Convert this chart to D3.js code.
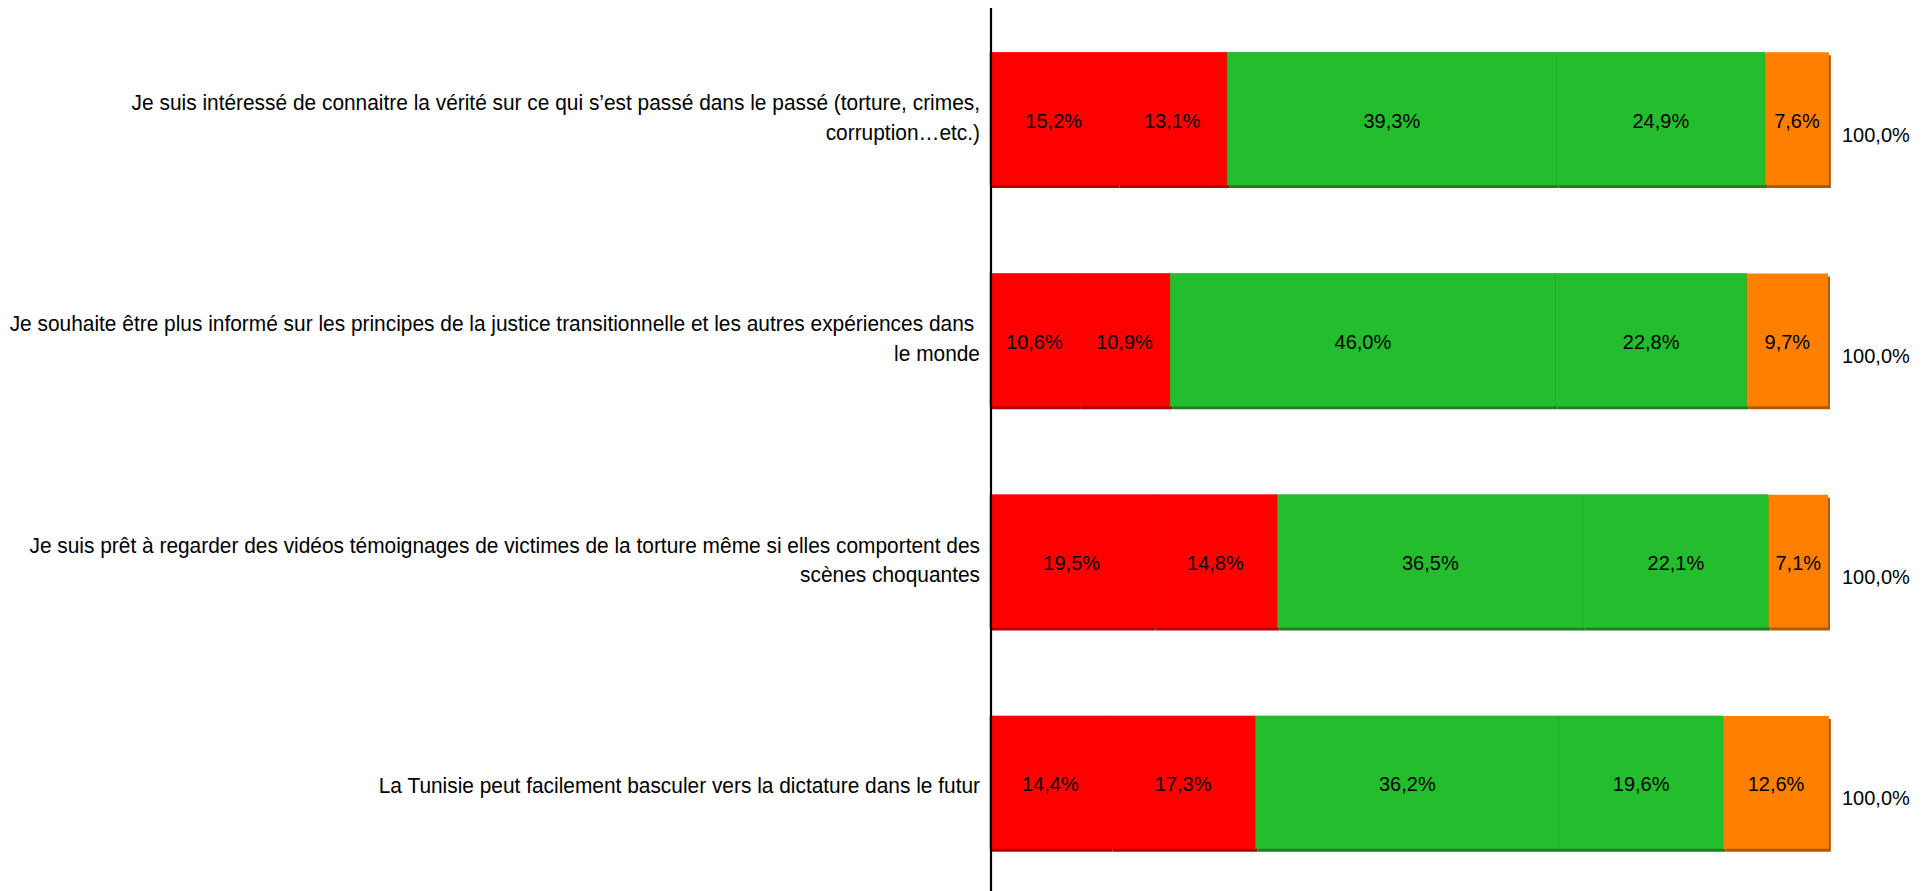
<!DOCTYPE html>
<html>
<head>
<meta charset="utf-8">
<script src="https://cdn.jsdelivr.net/npm/d3@7"></script>
<style>
  html, body { margin: 0; padding: 0; background: #ffffff; }
  svg { display: block; }
  text { font-family: "Liberation Sans", Arial, sans-serif; fill: #000; }
</style>
</head>
<body>
<svg id="chart" width="1924" height="891"></svg>
<script>
// ---- Data ----
const categories = [
  "Je suis intéressé de connaitre la vérité sur ce qui s’est passé dans le passé (torture, crimes,\ncorruption…etc.)",
  "Je souhaite être plus informé sur les principes de la justice transitionnelle et les autres expériences dans \nle monde",
  "Je suis prêt à regarder des vidéos témoignages de victimes de la torture même si elles comportent des\nscènes choquantes",
  "La Tunisie peut facilement basculer vers la dictature dans le futur"
];
const seriesNames = ["s1", "s2", "s3", "s4", "s5"];
const s1 = [15.2, 10.6, 19.5, 14.4];
const s2 = [13.1, 10.9, 14.8, 17.3];
const s3 = [39.3, 46.0, 36.5, 36.2];
const s4 = [24.9, 22.8, 22.1, 19.6];
const s5 = [7.6, 9.7, 7.1, 12.6];
const totals = [100.0, 100.0, 100.0, 100.0];
const seriesColors = ["#ff0000", "#ff0000", "#24bd2e", "#24bd2e", "#ff8000"];
const shadowColors = ["#b30000", "#b30000", "#1c7d22", "#1c7d22", "#b35a00"];
const sepColors = ["#f80000", "#f80000", "#21b02a", "#21b02a", "#ff8000"];

const fmt = v => v.toFixed(1).replace(".", ",") + "%";

// ---- Layout ----
const svg = d3.select("#chart");
const x = d3.scaleLinear().domain([0, 100]).range([990, 1828]);
const y = d3.scaleBand().domain(categories).range([8, 893]).paddingInner(0.4).paddingOuter(0.2);

const values = [s1, s2, s3, s4, s5];
const rows = categories.map((c, i) => {
  const obj = { cat: c };
  seriesNames.forEach((s, k) => obj[s] = values[k][i]);
  return obj;
});
const stacked = d3.stack().keys(seriesNames)(rows);

// shadows
const gShadow = svg.append("g");
stacked.forEach((layer, k) => {
  gShadow.selectAll(null).data(layer).join("rect")
    .attr("x", d => x(d[0]) + 2)
    .attr("y", d => y(d.data.cat) + 3)
    .attr("width", d => x(d[1]) - x(d[0]))
    .attr("height", y.bandwidth())
    .attr("fill", shadowColors[k]);
});
// bars
const gBars = svg.append("g");
stacked.forEach((layer, k) => {
  gBars.selectAll(null).data(layer).join("rect")
    .attr("x", d => x(d[0]))
    .attr("y", d => y(d.data.cat))
    .attr("width", d => x(d[1]) - x(d[0]))
    .attr("height", y.bandwidth())
    .attr("fill", seriesColors[k])
    .attr("stroke", k === 4 ? "none" : sepColors[k])
    .attr("stroke-width", 0.6);
});
// value labels
stacked.forEach((layer, k) => {
  svg.append("g").selectAll(null).data(layer).join("text")
    .attr("x", d => (x(d[0]) + x(d[1])) / 2)
    .attr("y", d => y(d.data.cat) + y.bandwidth() / 2 + 2)
    .attr("text-anchor", "middle")
    .attr("dominant-baseline", "central")
    .style("font-size", "20px")
    .text(d => fmt(d[1] - d[0]));
});
// totals
svg.append("g").selectAll(null).data(categories).join("text")
  .attr("x", (d, i) => x(totals[i]) + 14)
  .attr("y", d => y(d) + y.bandwidth() / 2 + 16)
  .attr("text-anchor", "start")
  .attr("dominant-baseline", "central")
  .style("font-size", "20px")
  .text((d, i) => fmt(totals[i]));

// axis
const axis = d3.axisLeft(y).tickSize(0).tickFormat("");
const gAxis = svg.append("g").attr("transform", "translate(991,0)").call(axis);
gAxis.select(".domain").attr("stroke", "#000").attr("stroke-width", 2.2)
  .attr("d", "M0,8V891");

// category labels
const lineH = 29.5;
const gLab = svg.append("g");
categories.forEach(c => {
  const lines = c.split("\n");
  const cy = y(c) + y.bandwidth() / 2 + (lines.length > 1 ? -1 : 3);
  const t = gLab.append("text")
    .attr("text-anchor", "end")
    .attr("transform", `translate(980,0) scale(0.95,1)`)
    .style("font-size", "22px")
    .style("white-space", "pre");
  lines.forEach((ln, i) => {
    t.append("tspan")
      .attr("x", 0)
      .attr("y", cy + (i - (lines.length - 1) / 2) * lineH)
      .attr("dominant-baseline", "central")
      .text(ln);
  });
});
</script>
</body>
</html>
